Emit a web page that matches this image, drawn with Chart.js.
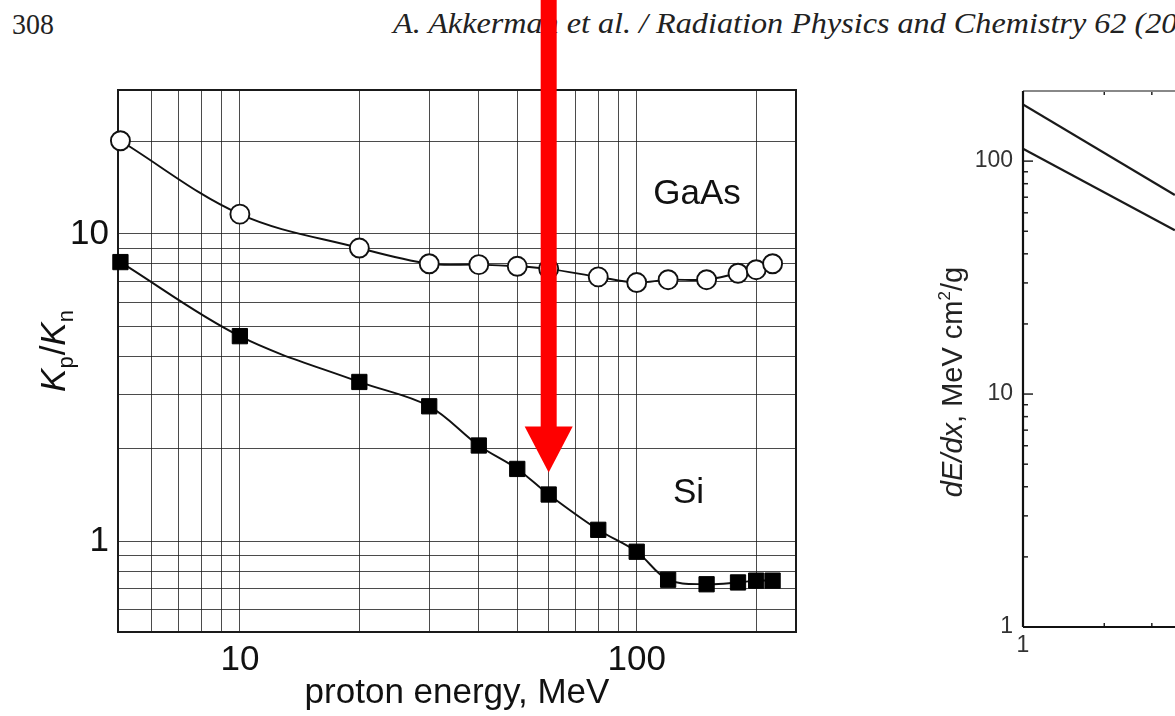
<!DOCTYPE html>
<html>
<head>
<meta charset="utf-8">
<script src="https://cdn.jsdelivr.net/npm/chart.js@4.4.0/dist/chart.umd.min.js"></script>
<style>
  html, body { margin: 0; padding: 0; background: #fff; }
  body { width: 1175px; height: 716px; overflow: hidden; position: relative; }
  #page { position: absolute; left: 12px; top: 7px; line-height: 30px; font: 30px "Liberation Serif", "Times New Roman", serif; color: #222; transform: scaleX(0.93); transform-origin: left; }
  #running { position: absolute; left: 393px; top: 7px; line-height: 30px; font: italic 29px "Liberation Serif", "Times New Roman", serif; color: #222; white-space: nowrap; transform: scaleX(1.11); transform-origin: left; }
  canvas { position: absolute; top: 0; }
  #left { left: 0; }
  #right { left: 880px; }
</style>
</head>
<body>
<div id="page">308</div>
<div id="running">A. Akkerman et al. / Radiation Physics and Chemistry 62 (2001) 301–310</div>
<canvas id="left" width="880" height="716"></canvas>
<canvas id="right" width="450" height="716"></canvas>
<script>
// left panel: Kp/Kn vs proton energy
var energy = [5, 10, 20, 30, 40, 50, 60, 80, 100, 120, 150, 180, 200, 220];
var gaasRatio = [20.1, 11.6, 9.0, 8.0, 7.95, 7.85, 7.7, 7.25, 6.95, 7.1, 7.1, 7.45, 7.65, 8.0];
var siRatio = [8.1, 4.65, 3.3, 2.75, 2.05, 1.72, 1.42, 1.09, 0.925, 0.75, 0.725, 0.735, 0.745, 0.745];

var xGrid = [6, 7, 8, 9, 10, 20, 30, 40, 50, 60, 70, 80, 90, 100, 200];
var xLabels = [10, 100];
var yGrid = [0.6, 0.7, 0.8, 0.9, 1, 2, 3, 4, 5, 6, 7, 8, 9, 10, 20];
var yLabels = [1, 10];
var arrowAt = 60;

// right panel: dE/dx (only the left part is on the page)
var dedxEnergy = [1, 3.65];
var dedxUpper = [175, 71.5];
var dedxLower = [113, 50.5];

var rTicksX = [1, 2, 3, 4, 5, 6, 7, 8, 9, 10];
var rLabelsX = [1, 10];
var rTicksY = [1, 2, 3, 4, 5, 6, 7, 8, 9, 10, 20, 30, 40, 50, 60, 70, 80, 90, 100, 200];
var rLabelsY = [1, 10, 100];

Chart.defaults.font.family = '"Liberation Sans", Arial, sans-serif';

function toPoints(xs, ys) {
  return xs.map((x, i) => ({ x: x, y: ys[i] }));
}

function line(ctx, x1, y1, x2, y2) {
  ctx.beginPath();
  ctx.moveTo(x1, y1);
  ctx.lineTo(x2, y2);
  ctx.stroke();
}

// text with mixed fonts, rotated to read bottom-to-top
function drawRotated(ctx, x, y, parts) {
  ctx.save();
  ctx.translate(x, y);
  ctx.rotate(-Math.PI / 2);
  ctx.textAlign = "left";
  ctx.textBaseline = "alphabetic";
  var total = 0;
  parts.forEach((p) => {
    ctx.font = p.font;
    p.w = ctx.measureText(p.text).width;
    total += p.w + (p.gap || 0);
  });
  var cx = -total / 2;
  parts.forEach((p) => {
    ctx.font = p.font;
    ctx.fillText(p.text, cx, p.dy || 0);
    cx += p.w + (p.gap || 0);
  });
  ctx.restore();
}

var frame = {
  id: "frame",
  beforeDatasetsDraw(chart) {
    var ctx = chart.ctx, a = chart.chartArea;
    ctx.save();
    ctx.strokeStyle = "#1a1a1a";
    ctx.lineWidth = 2;
    ctx.strokeRect(a.left, a.top, a.right - a.left, a.bottom - a.top);
    ctx.restore();
  }
};

var notes = {
  id: "notes",
  afterDraw(chart) {
    var ctx = chart.ctx, x = chart.scales.x, y = chart.scales.y;
    ctx.save();
    ctx.fillStyle = "#111";
    ctx.font = '35px "Liberation Sans", Arial, sans-serif';
    ctx.textAlign = "center";
    ctx.textBaseline = "middle";
    ctx.fillText("GaAs", x.getPixelForValue(141.9), y.getPixelForValue(13.45));
    ctx.fillText("Si", x.getPixelForValue(135.1), y.getPixelForValue(1.436));
    var it = 'italic 35px "Liberation Sans", Arial, sans-serif';
    var up = '35px "Liberation Sans", Arial, sans-serif';
    var sub = '22px "Liberation Sans", Arial, sans-serif';
    drawRotated(ctx, 65, 351, [
      { text: "K", font: it },
      { text: "p", font: sub, dy: 8, gap: 1 },
      { text: "/", font: up },
      { text: "K", font: it },
      { text: "n", font: sub, dy: 8 }
    ]);
    ctx.restore();
  }
};

var arrow = {
  id: "arrow",
  afterDraw(chart) {
    var ctx = chart.ctx, x = chart.scales.x, y = chart.scales.y;
    var px = x.getPixelForValue(arrowAt);
    var tip = y.getPixelForValue(siRatio[energy.indexOf(arrowAt)]) - 22;
    ctx.save();
    ctx.fillStyle = "#fe0000";
    ctx.fillRect(px - 8, 0, 16, tip - 45);
    ctx.beginPath();
    ctx.moveTo(px - 24, tip - 46);
    ctx.lineTo(px + 24, tip - 46);
    ctx.lineTo(px, tip);
    ctx.closePath();
    ctx.fill();
    ctx.restore();
  }
};

var gridStyle = { color: "rgba(30,30,30,0.8)", lineWidth: 1, drawTicks: false };

new Chart(document.getElementById("left"), {
  type: "line",
  data: {
    datasets: [
      {
        label: "GaAs",
        data: toPoints(energy, gaasRatio),
        borderColor: "#111",
        borderWidth: 1.9,
        pointStyle: "circle",
        pointRadius: 9.5,
        pointBorderWidth: 1.9,
        pointBackgroundColor: "#fff",
        pointBorderColor: "#111",
        tension: 0.35,
        clip: false
      },
      {
        label: "Si",
        data: toPoints(energy, siRatio),
        borderColor: "#111",
        borderWidth: 1.9,
        pointStyle: "rect",
        pointRadius: 10.8,
        pointBorderWidth: 1,
        pointBackgroundColor: "#000",
        pointBorderColor: "#000",
        tension: 0.35,
        clip: false
      }
    ]
  },
  options: {
    responsive: false,
    animation: false,
    events: [],
    layout: { padding: { top: 90, right: 84, left: 0, bottom: 0 } },
    plugins: { legend: { display: false }, tooltip: { enabled: false } },
    scales: {
      x: {
        type: "logarithmic",
        min: 4.93,
        max: 252,
        afterBuildTicks: (s) => { s.ticks = xGrid.map((v) => ({ value: v })); },
        afterFit: (s) => { s.height = 84; },
        grid: gridStyle,
        border: { display: false },
        ticks: {
          autoSkip: false,
          maxRotation: 0,
          padding: 7,
          color: "#111",
          font: { size: 35 },
          callback: (v) => (xLabels.includes(v) ? String(v) : "")
        },
        title: {
          display: true,
          text: "proton energy, MeV",
          color: "#111",
          font: { size: 35 },
          padding: { top: 0, bottom: 2 }
        }
      },
      y: {
        type: "logarithmic",
        min: 0.507,
        max: 29.4,
        afterBuildTicks: (s) => { s.ticks = yGrid.map((v) => ({ value: v })); },
        afterFit: (s) => { s.width = 118; },
        grid: gridStyle,
        border: { display: false },
        ticks: {
          autoSkip: false,
          padding: 9,
          color: "#111",
          font: { size: 35 },
          callback: (v) => (yLabels.includes(v) ? String(v) : "")
        }
      }
    }
  },
  plugins: [frame, notes, arrow]
});

var axesIn = {
  id: "axesIn",
  afterDraw(chart) {
    var ctx = chart.ctx, a = chart.chartArea, x = chart.scales.x, y = chart.scales.y;
    ctx.save();
    ctx.strokeStyle = "#222";
    ctx.lineWidth = 1.5;
    rTicksY.forEach((v) => {
      var py = y.getPixelForValue(v);
      line(ctx, a.left, py, a.left + (rLabelsY.includes(v) ? 10 : 5), py);
    });
    rTicksX.forEach((v) => {
      var px = x.getPixelForValue(v);
      var len = rLabelsX.includes(v) ? 8 : 4;
      line(ctx, px, a.bottom, px, a.bottom - len);
      line(ctx, px, a.top, px, a.top + len);
    });
    ctx.lineWidth = 2.2;
    ctx.strokeStyle = "#888";
    line(ctx, a.left, a.top, a.right + 40, a.top);
    ctx.strokeStyle = "#111";
    line(ctx, a.left, a.top, a.left, a.bottom);
    line(ctx, a.left, a.bottom, a.right + 40, a.bottom);

    ctx.fillStyle = "#222";
    var it = 'italic 29px "Liberation Sans", Arial, sans-serif';
    var up = '29px "Liberation Sans", Arial, sans-serif';
    drawRotated(ctx, 82, 382, [
      { text: "dE/dx", font: it },
      { text: ", MeV cm", font: up },
      { text: "2", font: '17px "Liberation Sans", Arial, sans-serif', dy: -12 },
      { text: "/g", font: up }
    ]);
    ctx.restore();
  }
};

new Chart(document.getElementById("right"), {
  type: "line",
  data: {
    datasets: [
      { data: toPoints(dedxEnergy, dedxUpper), borderColor: "#1a1a1a", borderWidth: 2.2, pointRadius: 0, tension: 0 },
      { data: toPoints(dedxEnergy, dedxLower), borderColor: "#1a1a1a", borderWidth: 2.2, pointRadius: 0, tension: 0 }
    ]
  },
  options: {
    responsive: false,
    animation: false,
    events: [],
    layout: { padding: { top: 91, right: 37, left: 0, bottom: 0 } },
    plugins: { legend: { display: false }, tooltip: { enabled: false } },
    scales: {
      x: {
        type: "logarithmic",
        min: 1,
        max: 10,
        afterBuildTicks: (s) => { s.ticks = rTicksX.map((v) => ({ value: v })); },
        afterFit: (s) => { s.height = 89; },
        grid: { display: false, drawTicks: false },
        border: { display: false },
        ticks: {
          autoSkip: false,
          maxRotation: 0,
          padding: 5,
          color: "#333",
          font: { size: 23 },
          callback: (v) => (rLabelsX.includes(v) ? String(v) : "")
        }
      },
      y: {
        type: "logarithmic",
        min: 1,
        max: 200,
        afterBuildTicks: (s) => { s.ticks = rTicksY.map((v) => ({ value: v })); },
        afterFit: (s) => { s.width = 143; },
        grid: { display: false, drawTicks: false },
        border: { display: false },
        ticks: {
          autoSkip: false,
          padding: 10,
          color: "#333",
          font: { size: 23 },
          callback: (v) => (rLabelsY.includes(v) ? String(v) : "")
        }
      }
    }
  },
  plugins: [axesIn]
});
</script>
</body>
</html>
